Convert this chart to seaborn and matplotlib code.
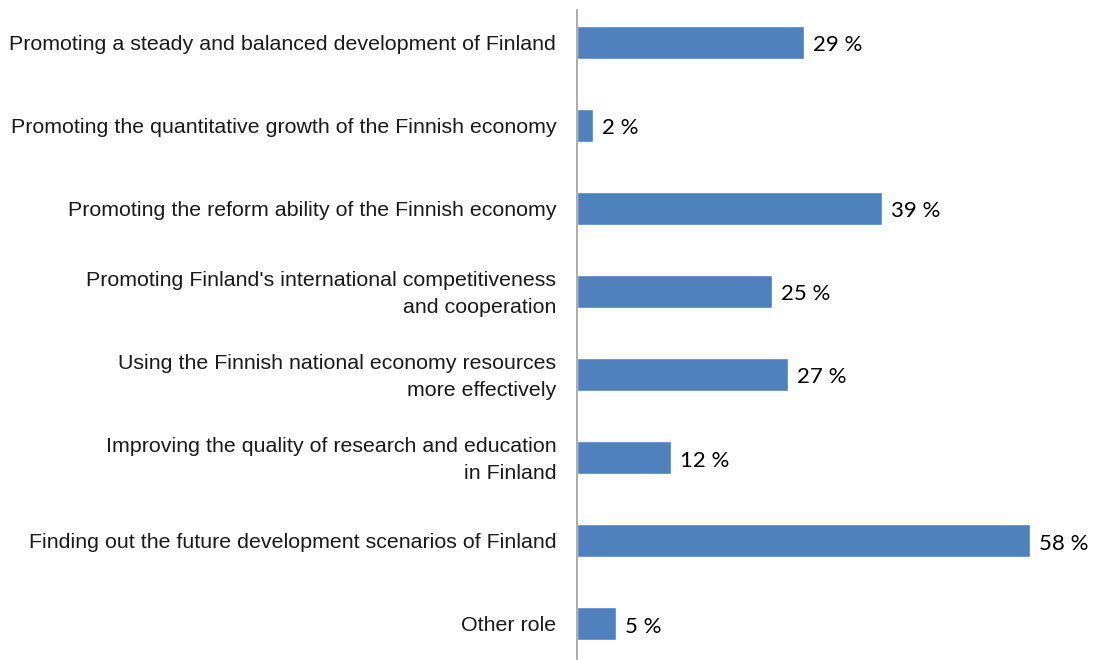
import matplotlib
matplotlib.use("Agg")
import matplotlib.pyplot as plt
import matplotlib.transforms as mtransforms
import seaborn as sns
import pandas as pd

categories = [
    "Promoting a steady and balanced development of Finland",
    "Promoting the quantitative growth of the Finnish economy",
    "Promoting the reform ability of the Finnish economy",
    "Promoting Finland's international competitiveness\nand cooperation",
    "Using the Finnish national economy resources\nmore effectively",
    "Improving the quality of research and education\nin Finland",
    "Finding out the future development scenarios of Finland",
    "Other role",
]
shares = [29, 2, 39, 25, 27, 12, 58, 5]

df = pd.DataFrame({"role": categories, "share": shares})

sns.set_theme(style="white")
plt.rcParams["font.family"] = ["Liberation Sans", "DejaVu Sans"]

W, H = 1096, 660
fig = plt.figure(figsize=(W / 100, H / 100), dpi=100)
ax = fig.add_axes([577 / W, 0.0, 1 - 577 / W, (H - 10) / H])

sns.barplot(data=df, x="share", y="role", color="#4F81BD", width=0.40,
            saturation=1, ax=ax, orient="h")

ax.set_xlim(0, 66.4)
ax.set_ylim(7.44, -0.39)
ax.set_xlabel("")
ax.set_ylabel("")
ax.set_xticks([])
ax.tick_params(axis="y", length=0, pad=15, labelsize=15.4, labelcolor="#1a1a1a")

# two-line category names: keep the block centred on its bar
lift = mtransforms.ScaledTranslation(0, 3 / 100, fig.dpi_scale_trans)
for lab in ax.get_yticklabels():
    lab.set_linespacing(1.5)
    if "\n" in lab.get_text():
        lab.set_transform(lab.get_transform() + lift)

for side in ["top", "right", "bottom"]:
    ax.spines[side].set_visible(False)
ax.spines["left"].set_color("#A6A6A6")
ax.spines["left"].set_linewidth(1.3)

value_labels = ax.bar_label(ax.containers[0], labels=[f"{v} %" for v in shares],
                            padding=6.5, fontsize=16, color="#000000",
                            family=["Lato", "DejaVu Sans"])
for t in value_labels:
    t.xyann = (6.5, -2.2)

fig.savefig("out.png", dpi=100)
